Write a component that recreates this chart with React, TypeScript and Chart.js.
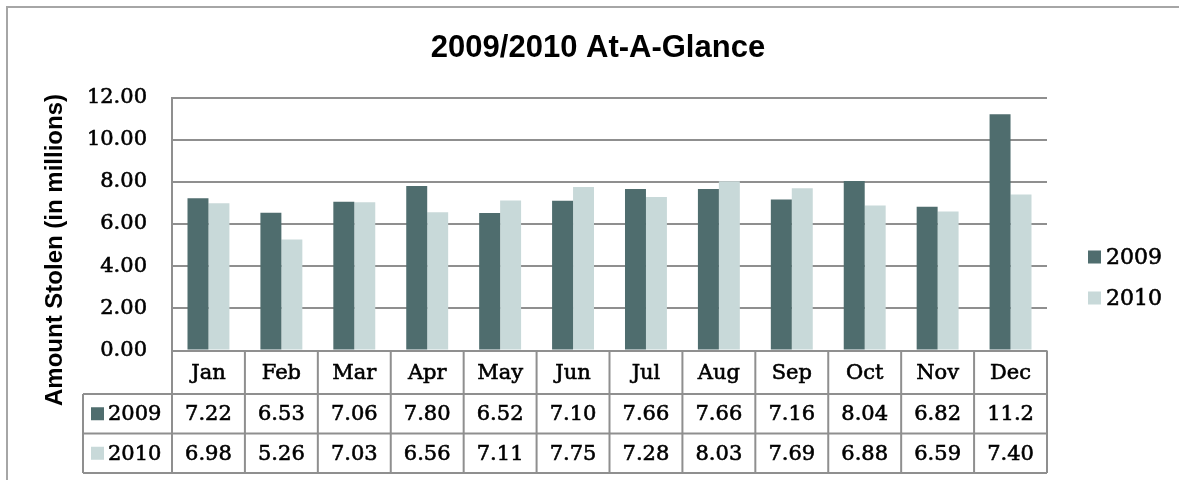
import React, { useEffect, useRef } from "react";
import { Chart, registerables } from "chart.js";

Chart.register(...registerables);

const months = ["Jan", "Feb", "Mar", "Apr", "May", "Jun", "Jul", "Aug", "Sep", "Oct", "Nov", "Dec"];
const values2009 = [7.22, 6.53, 7.06, 7.8, 6.52, 7.1, 7.66, 7.66, 7.16, 8.04, 6.82, 11.2];
const values2010 = [6.98, 5.26, 7.03, 6.56, 7.11, 7.75, 7.28, 8.03, 7.69, 6.88, 6.59, 7.4];
const seriesNames = ["2009", "2010"];
const seriesColors = ["#4f6d6e", "#c8d9d9"];
const titleText = "2009/2010 At-A-Glance";
const yAxisTitle = "Amount Stolen (in millions)";

const SERIF = "'DejaVu Serif', serif";
const SANS = "'Liberation Sans', Arial, sans-serif";
const LINE = "#8f8f8f";
const SERIF_SIZE = 21;
const STROKE_W = 0.6;

const fmt = (v: number) => (v >= 10 ? v.toFixed(1) : v.toFixed(2));

function heavyText(ctx: CanvasRenderingContext2D, t: string, x: number, y: number) {
  ctx.fillText(t, x, y);
  ctx.strokeText(t, x, y);
}

const decorPlugin = {
  id: "decor",
  afterDraw(chart: any) {
    const ctx = chart.ctx as CanvasRenderingContext2D;
    const xs = chart.scales.x;
    const area = chart.chartArea;
    ctx.save();

    // outer frame (only top and left edges fall inside the picture)
    ctx.strokeStyle = "#a6a6a6";
    ctx.lineWidth = 2;
    ctx.beginPath();
    ctx.moveTo(7, 480);
    ctx.lineTo(7, 7);
    ctx.lineTo(1179, 7);
    ctx.stroke();

    // title
    ctx.fillStyle = "#000";
    ctx.font = `bold 31px ${SANS}`;
    ctx.textAlign = "center";
    ctx.textBaseline = "middle";
    ctx.fillText(titleText, 598, 48);

    // y axis title
    ctx.save();
    ctx.translate(55, 250);
    ctx.rotate(-Math.PI / 2);
    ctx.font = `bold 24px ${SANS}`;
    ctx.fillText(yAxisTitle, 0, 0);
    ctx.restore();

    // data table
    const n = months.length;
    const bounds: number[] = [];
    for (let i = 0; i <= n; i++) {
      if (i === 0) bounds.push(area.left);
      else if (i === n) bounds.push(area.right);
      else bounds.push((xs.getPixelForValue(i - 1) + xs.getPixelForValue(i)) / 2);
    }
    const top = area.bottom;
    const r1 = 394;
    const r2 = 433.5;
    const r3 = 473;
    const tableLeft = 83;
    ctx.strokeStyle = LINE;
    ctx.lineWidth = 2;
    ctx.beginPath();
    for (let i = 0; i <= n; i++) {
      ctx.moveTo(bounds[i], top);
      ctx.lineTo(bounds[i], r3);
    }
    ctx.moveTo(tableLeft, r1);
    ctx.lineTo(area.right, r1);
    ctx.moveTo(tableLeft, r2);
    ctx.lineTo(area.right, r2);
    ctx.moveTo(tableLeft, r3);
    ctx.lineTo(area.right, r3);
    ctx.moveTo(tableLeft, r1);
    ctx.lineTo(tableLeft, r3);
    ctx.stroke();

    ctx.font = `${SERIF_SIZE}px ${SERIF}`;
    ctx.fillStyle = "#000";
    ctx.strokeStyle = "#000";
    ctx.lineWidth = STROKE_W;
    ctx.textAlign = "center";
    ctx.textBaseline = "middle";
    const rows = [values2009, values2010];
    for (let i = 0; i < n; i++) {
      const cx = xs.getPixelForValue(i);
      heavyText(ctx, months[i], cx, (top + r1) / 2 + 1);
      heavyText(ctx, fmt(rows[0][i]), cx, (r1 + r2) / 2 + 1);
      heavyText(ctx, fmt(rows[1][i]), cx, (r2 + r3) / 2 + 1);
    }
    // row headers
    const rowCenters = [(r1 + r2) / 2, (r2 + r3) / 2];
    ctx.textAlign = "left";
    for (let s = 0; s < 2; s++) {
      ctx.fillStyle = seriesColors[s];
      ctx.fillRect(91, rowCenters[s] - 6.5, 13, 13);
      ctx.fillStyle = "#000";
      heavyText(ctx, seriesNames[s], 108, rowCenters[s] + 1);
    }

    // legend
    ctx.font = `22px ${SERIF}`;
    const legY = [257, 298];
    for (let s = 0; s < 2; s++) {
      ctx.fillStyle = seriesColors[s];
      ctx.fillRect(1088, legY[s] - 6.5, 13, 13);
      ctx.fillStyle = "#000";
      heavyText(ctx, seriesNames[s], 1106, legY[s] + 1);
    }
    ctx.restore();
  },
};

export default function App() {
  const ref = useRef<HTMLCanvasElement | null>(null);
  useEffect(() => {
    if (!ref.current) return;
    document.body.style.margin = "0";
    document.body.style.overflow = "hidden";
    const chart = new Chart(ref.current, {
      type: "bar",
      data: {
        labels: months,
        datasets: [
          { label: seriesNames[0], data: values2009, backgroundColor: seriesColors[0] },
          { label: seriesNames[1], data: values2010, backgroundColor: seriesColors[1] },
        ],
      },
      options: {
        responsive: false,
        animation: false,
        devicePixelRatio: 1,
        layout: { padding: { left: 0, top: 97.5, right: 132, bottom: 129.5 } },
        datasets: { bar: { categoryPercentage: 0.575, barPercentage: 1 } },
        plugins: {
          legend: { display: false },
          title: { display: false },
          tooltip: { enabled: false },
        },
        scales: {
          x: {
            display: false,
          },
          y: {
            min: 0,
            max: 12,
            afterFit: (scale: any) => {
              scale.width = 172;
            },
            ticks: {
              stepSize: 2,
              padding: 25,
              color: "#000",
              textStrokeColor: "#000",
              textStrokeWidth: STROKE_W,
              font: { family: "DejaVu Serif", size: SERIF_SIZE },
              callback: (v: any) => Number(v).toFixed(2),
            },
            grid: { color: LINE, lineWidth: 2, drawTicks: false },
            border: { color: LINE, width: 2 },
          },
        },
      },
      plugins: [decorPlugin],
    } as any);
    return () => chart.destroy();
  }, []);
  return (
    <div style={{ position: "absolute", left: 0, top: 0, width: 1179, height: 480, overflow: "hidden", background: "#fff" }}>
      <canvas ref={ref} width={1179} height={480} style={{ display: "block" }} />
    </div>
  );
}
